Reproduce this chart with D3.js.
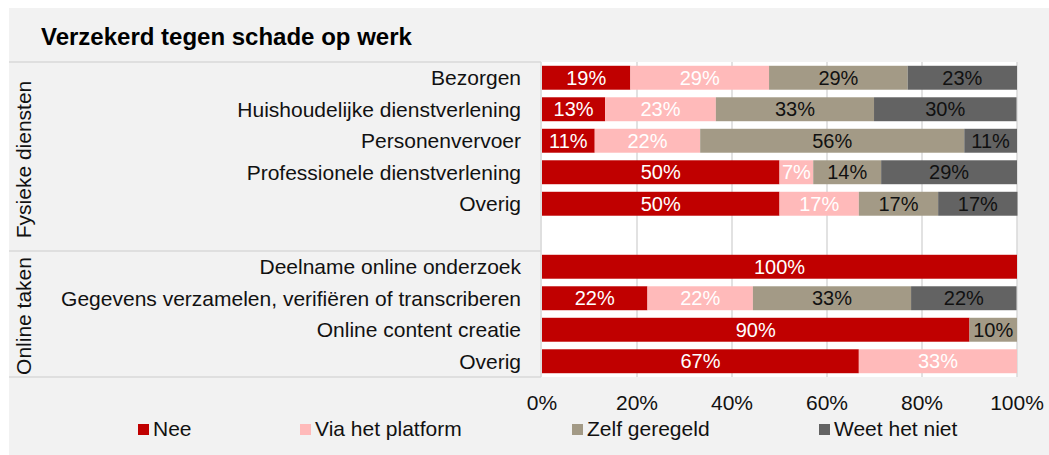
<!DOCTYPE html>
<html>
<head>
<meta charset="utf-8">
<script src="https://cdn.jsdelivr.net/npm/d3@7"></script>
<style>
  html, body { margin: 0; padding: 0; background: #fff; }
  svg { display: block; font-family: Arial, "Liberation Sans", sans-serif; }
</style>
</head>
<body>
<svg id="chart" width="1049" height="455"></svg>
<script>
// Data
const title = 'Verzekerd tegen schade op werk';
const groups = ['Fysieke diensten', 'Online taken'];
const categories = [
  'Bezorgen',
  'Huishoudelijke dienstverlening',
  'Personenvervoer',
  'Professionele dienstverlening',
  'Overig',
  'Deelname online onderzoek',
  'Gegevens verzamelen, verifiëren of transcriberen',
  'Online content creatie',
  'Overig'
];
const seriesNames = ['Nee', 'Via het platform', 'Zelf geregeld', 'Weet het niet'];
const nee      = [18.6, 13.3, 11.1, 50.0, 50.0, 100, 22.2, 90, 66.7];
const platform = [29.2, 23.3, 22.2,  7.1, 16.7,   0, 22.2,  0, 33.3];
const zelf     = [29.2, 33.3, 55.6, 14.3, 16.7,   0, 33.3, 10,  0];
const weet     = [23.0, 30.0, 11.1, 28.6, 16.7,   0, 22.2,  0,  0];
const ticks = [0, 20, 40, 60, 80, 100];

const colors = ['#c00000', '#ffbaba', '#a39a86', '#636363'];
const labelColors = ['#fff', '#fff', '#111', '#111'];

const svg = d3.select('#chart');

// Background
svg.append('rect').attr('x', 9).attr('y', 8).attr('width', 1040).attr('height', 447).attr('fill', '#f2f2f2');

svg.append('text').attr('x', 41).attr('y', 45)
  .attr('font-size', 24).attr('font-weight', 'bold').attr('fill', '#000')
  .text(title);

// rows: group 1, blank spacer, group 2
const rowKeys = [];
categories.forEach((c, i) => {
  if (i === 5) rowKeys.push('spacer');
  rowKeys.push('r' + i);
});

const x = d3.scaleLinear().domain([0, 100]).range([542, 1017]);
const y = d3.scaleBand().domain(rowKeys).range([62, 377]).paddingInner(0.24).paddingOuter(0.12);

// Plot area
svg.append('rect').attr('x', x(0)).attr('y', 62).attr('width', x(100) - x(0)).attr('height', 315).attr('fill', '#fff');

// Grid
svg.append('g').selectAll('line').data(ticks.slice(1)).join('line')
  .attr('x1', d => x(d)).attr('x2', d => x(d)).attr('y1', 62).attr('y2', 377)
  .attr('stroke', '#d9d9d9').attr('stroke-width', 1.5);

// Category axis lines (multi-level)
const stepY = y.step();
const groupTop = 62;
const groupSplit = y('r5') - y.paddingInner() * stepY / 2;
const groupBottom = 377;
svg.append('g').selectAll('line').data([groupTop, groupSplit, groupBottom]).join('line')
  .attr('x1', 9).attr('x2', x(0) - 1).attr('y1', d => d).attr('y2', d => d)
  .attr('stroke', '#d9d9d9').attr('stroke-width', 1.5);
svg.append('line').attr('x1', x(0) - 1).attr('x2', x(0) - 1).attr('y1', groupTop).attr('y2', groupBottom)
  .attr('stroke', '#d9d9d9').attr('stroke-width', 1.5);

// Stacks
const table = categories.map((c, i) => ({ key: 'r' + i, vals: [nee[i], platform[i], zelf[i], weet[i]] }));
const segs = [];
table.forEach(row => {
  let acc = 0;
  row.vals.forEach((v, s) => {
    segs.push({ key: row.key, s, x0: acc, x1: acc + v, v });
    acc += v;
  });
});

const bars = svg.append('g');
bars.selectAll('rect').data(segs.filter(d => d.v > 0)).join('rect')
  .attr('x', d => x(d.x0)).attr('width', d => x(d.x1) - x(d.x0))
  .attr('y', d => y(d.key)).attr('height', y.bandwidth())
  .attr('fill', d => colors[d.s]);

bars.selectAll('text').data(segs.filter(d => d.v > 0)).join('text')
  .attr('x', d => (x(d.x0) + x(d.x1)) / 2)
  .attr('y', d => y(d.key) + y.bandwidth() / 2)
  .attr('dy', '0.36em').attr('text-anchor', 'middle')
  .attr('font-size', 20).attr('fill', d => labelColors[d.s])
  .text(d => Math.round(d.v) + '%');

// Category labels
svg.append('g').selectAll('text').data(categories).join('text')
  .attr('x', 521).attr('y', (d, i) => y('r' + i) + y.bandwidth() / 2)
  .attr('dy', '0.36em').attr('text-anchor', 'end')
  .attr('font-size', 21).attr('fill', '#111')
  .text(d => d);

// Group labels
const groupMid = [(groupTop + groupSplit) / 2 + 3, (groupSplit + groupBottom) / 2 + 2];
svg.append('g').selectAll('text').data(groups).join('text')
  .attr('transform', (d, i) => `translate(31,${groupMid[i]}) rotate(-90)`)
  .attr('text-anchor', 'middle').attr('font-size', 21).attr('fill', '#111')
  .text(d => d);

// X axis labels
svg.append('g').selectAll('text').data(ticks).join('text')
  .attr('x', d => x(d)).attr('y', 410).attr('text-anchor', 'middle')
  .attr('font-size', 21).attr('fill', '#111')
  .text(d => d + '%');

// Legend
const legendX = [138, 300, 572, 819];
const lg = svg.append('g').selectAll('g').data(seriesNames).join('g')
  .attr('transform', (d, i) => `translate(${legendX[i]},424)`);
lg.append('rect').attr('width', 11).attr('height', 11).attr('fill', (d, i) => colors[i]);
lg.append('text').attr('x', 15).attr('y', 12).attr('font-size', 21).attr('fill', '#111').text(d => d);
</script>
</body>
</html>
